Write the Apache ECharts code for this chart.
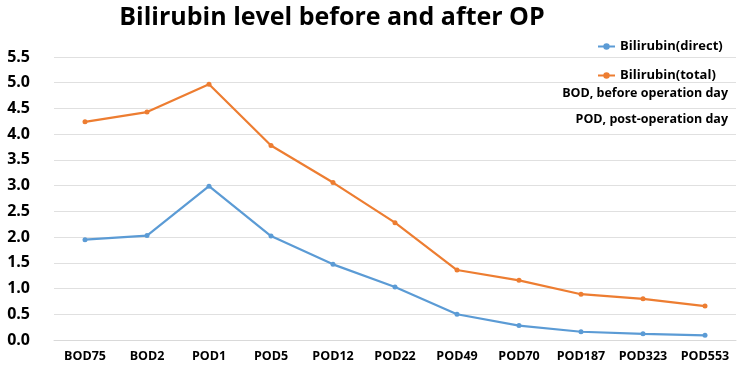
<!DOCTYPE html>
<html>
<head>
<meta charset="utf-8">
<script src="https://cdn.jsdelivr.net/npm/echarts@6/dist/echarts.min.js"></script>
<style>
    html, body { margin: 0; padding: 0; background: #fff; }
    #chart { width: 744px; height: 371px; }
</style>
</head>
<body>
<div id="chart"></div>
<script>
var categories = ["BOD75", "BOD2", "POD1", "POD5", "POD12", "POD22", "POD49", "POD70", "POD187", "POD323", "POD553"];
var direct = [1.95, 2.03, 2.99, 2.02, 1.47, 1.03, 0.5, 0.28, 0.16, 0.12, 0.09];
var total = [4.24, 4.43, 4.97, 3.78, 3.06, 2.28, 1.36, 1.16, 0.89, 0.8, 0.66];
var notes = ["BOD, before operation day", "POD, post-operation day"];

var font = "'Open Sans', 'Liberation Sans', sans-serif";
var chart = echarts.init(document.getElementById("chart"));

chart.setOption({
    backgroundColor: "#fff",
    animation: false,
    title: {
        text: "Bilirubin level before and after OP",
        left: 327,
        top: 0,
        textAlign: "center",
        textStyle: { fontFamily: font, fontSize: 25, fontWeight: "bold", color: "#000" }
    },
    legend: [
        {
            data: ["Bilirubin(direct)"],
            left: 592, top: 35,
            itemWidth: 17, itemHeight: 8,
            textStyle: { fontFamily: font, fontSize: 13, fontWeight: "bold", color: "#000" }
        },
        {
            data: ["Bilirubin(total)"],
            left: 592, top: 64,
            itemWidth: 17, itemHeight: 8,
            textStyle: { fontFamily: font, fontSize: 13, fontWeight: "bold", color: "#000" }
        }
    ],
    graphic: notes.map(function (t, i) {
        return {
            type: "text",
            right: 16,
            top: 87 + i * 26,
            style: { text: t, fontFamily: font, fontSize: 12.5, fontWeight: "bold", fill: "#000" }
        };
    }),
    grid: { left: 54, right: 8, top: 57, bottom: 31 },
    xAxis: {
        type: "category",
        data: categories,
        boundaryGap: true,
        axisLine: { show: true, lineStyle: { color: "#d9d9d9" } },
        axisTick: { show: false },
        axisLabel: { interval: 0, margin: 10, fontFamily: font, fontSize: 12.5, fontWeight: "bold", color: "#000" }
    },
    yAxis: {
        type: "value",
        min: 0, max: 5.5, interval: 0.5,
        axisLine: { show: false },
        axisTick: { show: false },
        splitLine: { lineStyle: { color: "#e0e0e0" } },
        axisLabel: {
            margin: 24, fontFamily: font, fontSize: 16, fontWeight: "bold", color: "#000",
            formatter: function (v) { return v.toFixed(1); }
        }
    },
    series: [
        {
            name: "Bilirubin(direct)",
            type: "line",
            data: direct,
            color: "#5B9BD5",
            symbol: "circle",
            symbolSize: 5,
            lineStyle: { width: 2.2 }
        },
        {
            name: "Bilirubin(total)",
            type: "line",
            data: total,
            color: "#ED7D31",
            symbol: "circle",
            symbolSize: 5,
            lineStyle: { width: 2.2 }
        }
    ]
});
</script>
</body>
</html>
